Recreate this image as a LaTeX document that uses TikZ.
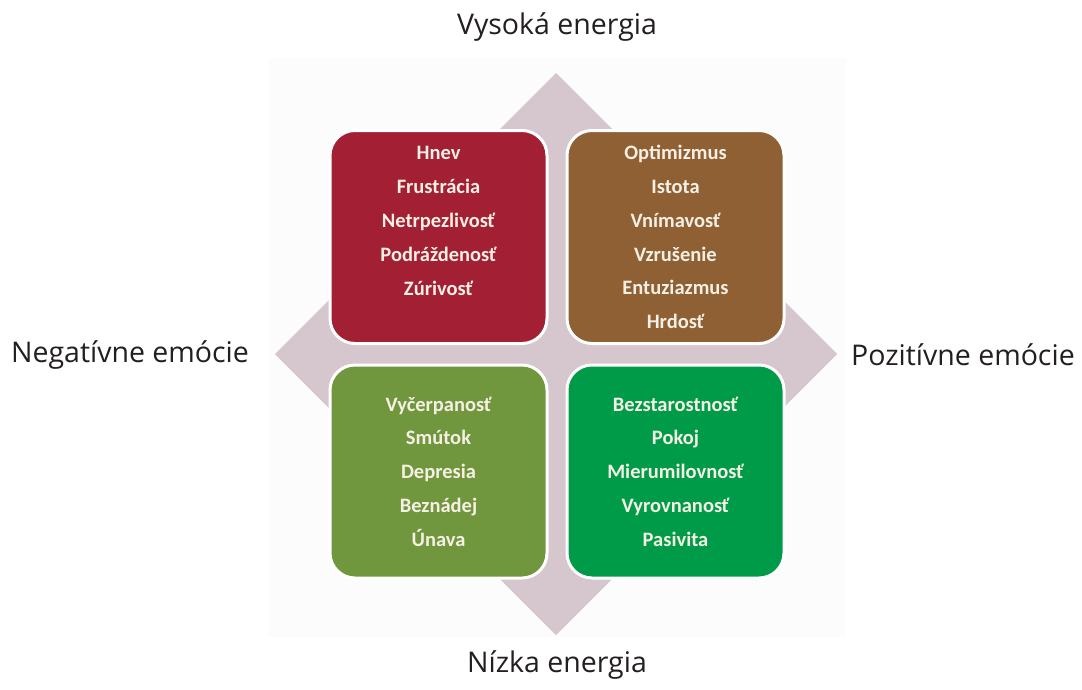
\documentclass[tikz,border=0pt]{standalone}
\usepackage{fontspec}
\setmainfont{Open Sans}
\newfontfamily\boxfont{Carlito}
\definecolor{diamondgray}{RGB}{213,199,205}
\definecolor{quadred}{RGB}{163,31,52}
\definecolor{quadbrown}{RGB}{142,96,52}
\definecolor{quadolive}{RGB}{112,150,62}
\definecolor{quadgreen}{RGB}{0,155,72}
\definecolor{quadtextcol}{RGB}{246,240,228}
\definecolor{labelgray}{RGB}{35,31,32}
\tikzset{
  quadbox/.style={draw=white, line width=3pt, rounded corners=25pt,
    minimum width=217pt, minimum height=213pt, inner sep=0pt},
  quadtext/.style={text=quadtextcol, align=center, inner sep=0pt,
    font=\boxfont\bfseries\fontsize{20.5}{33.8}\selectfont},
  axislabel/.style={text=labelgray, inner sep=0pt,
    font=\fontsize{28.5}{30}\selectfont}
}
\begin{document}
\begin{tikzpicture}[x=1pt,y=-1pt]
% Bounding box of the picture
\useasboundingbox (0,0) rectangle (1082,689);

% Filling background panel
\fill [black!1.2] (268,58) rectangle (846,637);

% Filling diamond
\fill [diamondgray] (556,73) -- (837,354) -- (556,635) -- (275,354) -- cycle;

% Drawing quadrant boxes
\node [quadbox, fill=quadred]   (negHigh) at (438.5,237)   {};
\node [quadbox, fill=quadbrown] (posHigh) at (675.5,237)   {};
\node [quadbox, fill=quadolive] (negLow)  at (438.5,471.5) {};
\node [quadbox, fill=quadgreen] (posLow)  at (675.5,471.5) {};

% Marking emotions in each box
\node [quadtext] (negHighText) at ([yshift=16pt]negHigh.center)
  {Hnev\\Frustrácia\\Netrpezlivosť\\Podráždenosť\\Zúrivosť};
\node [quadtext] (posHighText) at (posHigh.center)
  {Optimizmus\\Istota\\Vnímavosť\\Vzrušenie\\Entuziazmus\\Hrdosť};
\node [quadtext] (negLowText) at (negLow.center)
  {Vyčerpanosť\\Smútok\\Depresia\\Beznádej\\Únava};
\node [quadtext] (posLowText) at (posLow.center)
  {Bezstarostnosť\\Pokoj\\Mierumilovnosť\\Vyrovnanosť\\Pasivita};

% Marking axis labels
\node [axislabel] (highLabel) at (557,27)  {Vysoká energia};
\node [axislabel] (lowLabel)  at (557,665) {Nízka energia};
\node [axislabel] (negLabel)  at (130,355) {Negatívne emócie};
\node [axislabel] (posLabel)  at (963,355) {Pozitívne emócie};
\end{tikzpicture}
\end{document}
